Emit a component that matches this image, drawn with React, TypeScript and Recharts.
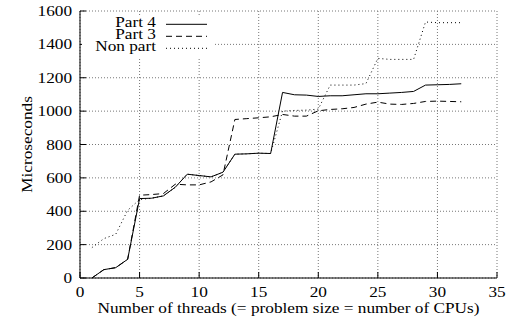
import React from 'react';
import { LineChart, Line, XAxis, YAxis, CartesianGrid } from 'recharts';

const threads = [1, 2, 3, 4, 5, 6, 7, 8, 9, 10, 11, 12, 13, 14, 15, 16, 17, 18, 19, 20, 21, 22, 23, 24, 25, 26, 27, 28, 29, 30, 31, 32];
const part4 = [0, 50, 62, 112, 476, 478, 492, 544, 622, 614, 606, 634, 742, 744, 748, 746, 1112, 1098, 1096, 1088, 1092, 1092, 1098, 1104, 1104, 1108, 1112, 1118, 1156, 1158, 1160, 1164];
const part3 = [0, 50, 62, 112, 496, 500, 506, 562, 558, 558, 576, 618, 950, 955, 960, 966, 980, 970, 970, 1002, 1010, 1014, 1022, 1042, 1054, 1042, 1040, 1046, 1058, 1060, 1058, 1056];
const nonPart = [182, 236, 262, 406, 470, 478, 492, 544, 622, 614, 606, 634, 742, 744, 748, 746, 1000, 1004, 1006, 1012, 1156, 1156, 1156, 1165, 1316, 1310, 1310, 1310, 1534, 1530, 1530, 1530];
const xTicks = [0, 5, 10, 15, 20, 25, 30, 35];
const yTicks = [0, 200, 400, 600, 800, 1000, 1200, 1400, 1600];
const seriesNames = ['Part 4', 'Part 3', 'Non part'];
const xTitle = 'Number of threads (= problem size = number of CPUs)';
const yTitle = 'Microseconds';

const data = threads.map((n, i) => ({ n, part4: part4[i], part3: part3[i], nonPart: nonPart[i] }));

const FONT = "'Liberation Serif', 'DejaVu Serif', serif";
const FS = 15;
const SX = 1.15;

function T(props: any) {
  const { x, y, anchor, rotate, children } = props;
  const tr = `translate(${x},${y})` + (rotate ? ' rotate(-90)' : '') + ` scale(${SX},1)`;
  return (
    <text
      transform={tr}
      x={0}
      y={0}
      textAnchor={anchor}
      fill="#000"
      style={{ fontFamily: FONT, fontSize: FS }}
    >
      {children}
    </text>
  );
}

const BottomTick = (p: any) => (
  <g>
    <line x1={p.x} y1={p.y} x2={p.x} y2={p.y - 6} stroke="#000" />
    <T x={p.x} y={p.y + 19} anchor="middle">{p.payload.value}</T>
  </g>
);
const TopTick = (p: any) => (
  <g>
    <line x1={p.x} y1={p.y} x2={p.x} y2={p.y + 6} stroke="#000" />
  </g>
);
const LeftTick = (p: any) => (
  <g>
    <line x1={p.x} y1={p.y} x2={p.x + 6} y2={p.y} stroke="#000" />
    <T x={p.x - 8} y={p.y + 5} anchor="end">{p.payload.value}</T>
  </g>
);
const RightTick = (p: any) => (
  <g>
    <line x1={p.x} y1={p.y} x2={p.x - 6} y2={p.y} stroke="#000" />
  </g>
);

const XLabel = (p: any) => {
  const vb = p.viewBox || { x: 80, y: 278, width: 417, height: 46 };
  return <T x={vb.x + vb.width / 2} y={vb.y + 35} anchor="middle">{xTitle}</T>;
};
const YLabel = (p: any) => {
  const vb = p.viewBox || { x: 0, y: 11, width: 80, height: 267 };
  return <T x={32} y={vb.y + vb.height / 2} anchor="middle" rotate>{yTitle}</T>;
};

const legendDash = ['', '6 4', '1 3'];

export default function App() {
  return (
    <div style={{ position: 'absolute', left: 0, top: 0, width: 507, height: 324, background: '#fff' }}>
      <LineChart width={507} height={324} data={data} margin={{ top: 11, right: 10, bottom: 0, left: 0 }}>
        <CartesianGrid stroke="#777" strokeDasharray="1 2" />
        <XAxis
          dataKey="n"
          type="number"
          domain={[0, 35]}
          ticks={xTicks}
          interval={0}
          tickSize={0}
          tickMargin={0}
          tickLine={false}
          axisLine={{ stroke: '#000' }}
          height={46}
          tick={<BottomTick />}
          label={<XLabel />}
        />
        <XAxis
          xAxisId="top"
          orientation="top"
          dataKey="n"
          type="number"
          domain={[0, 35]}
          ticks={xTicks}
          interval={0}
          tickSize={0}
          tickMargin={0}
          tickLine={false}
          axisLine={{ stroke: '#000' }}
          height={0}
          tick={<TopTick />}
        />
        <YAxis
          type="number"
          domain={[0, 1600]}
          ticks={yTicks}
          interval={0}
          tickSize={0}
          tickMargin={0}
          tickLine={false}
          axisLine={{ stroke: '#000' }}
          width={80}
          tick={<LeftTick />}
          label={<YLabel />}
        />
        <YAxis
          yAxisId="right"
          orientation="right"
          type="number"
          domain={[0, 1600]}
          ticks={yTicks}
          interval={0}
          tickSize={0}
          tickMargin={0}
          tickLine={false}
          axisLine={{ stroke: '#000' }}
          width={0}
          tick={<RightTick />}
        />
        <Line type="linear" dataKey="part4" name={seriesNames[0]} stroke="#000" strokeWidth={1} dot={false} isAnimationActive={false} />
        <Line type="linear" dataKey="part3" name={seriesNames[1]} stroke="#000" strokeWidth={1} strokeDasharray="6 4" dot={false} isAnimationActive={false} />
        <Line type="linear" dataKey="nonPart" name={seriesNames[2]} stroke="#000" strokeWidth={1} strokeDasharray="1 3" dot={false} isAnimationActive={false} />
      </LineChart>
      <div style={{ position: 'absolute', left: 82, top: 17, width: 133, height: 40, background: '#fff' }}>
        <svg width={133} height={40} style={{ display: 'block', overflow: 'visible' }}>
          {seriesNames.map((nm, i) => (
            <g key={nm}>
              <T x={74} y={10 + i * 12} anchor="end">{nm}</T>
              <line x1={84} x2={125} y1={7.3 + i * 12} y2={7.3 + i * 12} stroke="#000" strokeWidth={1} strokeDasharray={legendDash[i] || undefined} />
            </g>
          ))}
        </svg>
      </div>
    </div>
  );
}
